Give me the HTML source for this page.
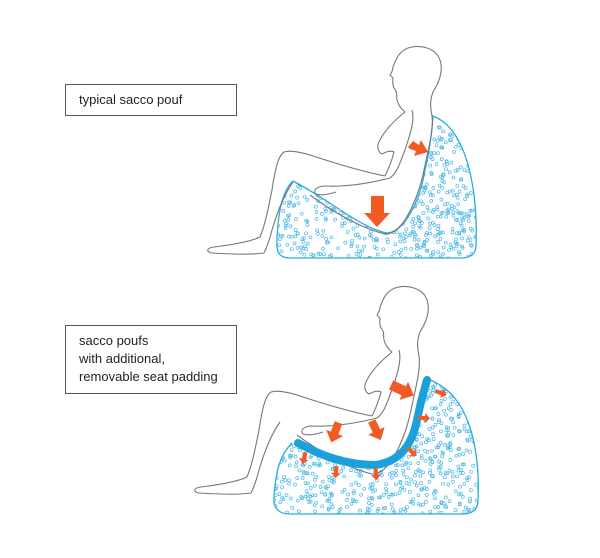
<!DOCTYPE html>
<html><head><meta charset="utf-8">
<style>
html,body{margin:0;padding:0;background:#fff;}
svg{display:block}
text{font-family:"Liberation Sans",sans-serif;font-size:13px;fill:#222}
</style></head>
<body>
<svg id="s" width="600" height="558" viewBox="0 0 600 558" xmlns="http://www.w3.org/2000/svg">
<defs>
<clipPath id="c1"><path d="M293,181 C330,200 360,228 387,233 C405,232 420,200 425,170 C430,150 432,130 433,116 C470,130 478,200 476,245 C476,255 470,258 460,258 L290,258 C279,258 276,252 277,240 C278,210 283,190 293,181 Z"/></clipPath>
<clipPath id="c2"><path d="M292,443 C320,455 350,466 380,466 C410,462 420,420 430,380 C470,395 480,450 478,500 C478,510 472,514 462,514 L290,514 C278,514 273,508 274,496 C276,470 282,452 292,443 Z"/></clipPath>
<g id="person" fill="none" stroke="#777" stroke-width="1.1" stroke-linejoin="round">
<path d="M397,100 C396,96 398,92 394,88 C392,84 393,80 393,78 L390,75 C392,72 393,70 393,67 C396,60 398,52 408,48 C420,44 436,48 440,60 C444,72 438,84 433,92 C430,100 430,106 432,116 C434,130 428,150 424,170 C420,190 414,205 405,220 C398,230 392,234 385,234 C360,228 330,210 310,195"/>
<path d="M397,100 C398,104 400,108 405,112 C395,120 385,130 380,140 C376,146 378,152 382,154 C386,152 390,150 394,152 C392,160 388,170 385,176"/>
<path d="M412,110 C415,120 410,135 405,150 C400,162 398,172 390,178 C370,183 345,187 325,186 C318,186 312,190 316,194 C322,196 330,194 336,192"/>
<path d="M385,176 C365,172 340,165 310,155 C300,152 290,150 284,152 C278,156 275,170 272,190 C268,210 265,225 260,237 C250,242 230,245 214,247 C206,248 206,252 212,253 C230,254 250,255 264,253 C268,245 270,238 272,230 C278,210 284,195 293,182"/>
</g>
</defs>
<rect x="65.5" y="84.5" width="171" height="31" fill="none" stroke="#555" stroke-width="1"/>
<text x="79" y="104">typical sacco pouf</text>
<rect x="65.5" y="325.5" width="171" height="68" fill="none" stroke="#555" stroke-width="1"/>
<text x="79" y="345">sacco poufs</text>
<text x="79" y="363">with additional,</text>
<text x="79" y="381">removable seat padding</text>

<g id="dots1" clip-path="url(#c1)"></g>
<g id="dots2" clip-path="url(#c2)"></g>

<path d="M293,181 C330,200 360,228 387,233 C405,232 420,200 425,170 C430,150 432,130 433,116 C470,130 478,200 476,245 C476,255 470,258 460,258 L290,258 C279,258 276,252 277,240 C278,210 283,190 293,181" fill="none" stroke="#29abe2" stroke-width="1.3"/>
<path d="M292,443 C280,455 276,470 274,496 C273,508 278,514 290,514 L462,514 C472,514 478,510 478,500 C480,450 470,395 430,380" fill="none" stroke="#29abe2" stroke-width="1.3"/>

<use href="#person"/>
<use href="#person" transform="translate(-13,240)"/>

<path d="M298,443 C320,455 345,465 375,465 C400,462 412,445 417,420 C421,400 424,390 427,380" fill="none" stroke="#1ba0dc" stroke-width="8" stroke-linecap="round"/>

<g fill="#f15a22">
<polygon points="408,147 413,141 419,145 421,140 428,152 414,156 416,151 410,149"/>
<polygon points="371,196 384,196 384,213 390,213 377,227 364,213 371,213"/>
<g transform="translate(402,390) rotate(25)"><polygon points="-12,-5 2,-5 2,-10 13,0 2,10 2,5 -12,5"/></g>
<g transform="translate(335,432) rotate(110)"><polygon points="-10,-4 1,-4 1,-9 11,0 1,9 1,4 -10,4"/></g>
<g transform="translate(376,430) rotate(65)"><polygon points="-10,-4 1,-4 1,-9 11,0 1,9 1,4 -10,4"/></g>
<g transform="translate(441,393) rotate(20)"><polygon points="-6,-2 1,-2 1,-5 6,0 1,5 1,2 -6,2"/></g>
<g transform="translate(424,418) rotate(5)"><polygon points="-6,-2 1,-2 1,-5 6,0 1,5 1,2 -6,2"/></g>
<g transform="translate(412,452) rotate(40)"><polygon points="-6,-2 1,-2 1,-5 6,0 1,5 1,2 -6,2"/></g>
<g transform="translate(304,458) rotate(105)"><polygon points="-6,-2 1,-2 1,-5 6,0 1,5 1,2 -6,2"/></g>
<g transform="translate(336,472) rotate(95)"><polygon points="-6,-2 1,-2 1,-5 6,0 1,5 1,2 -6,2"/></g>
<g transform="translate(376,474) rotate(85)"><polygon points="-6,-2 1,-2 1,-5 6,0 1,5 1,2 -6,2"/></g>
</g>
</svg>
<script>
(function(){
var ns="http://www.w3.org/2000/svg";
var seed=7;function r(){seed=(seed*16807)%2147483647;return seed/2147483647;}
function fill(id,x0,y0,x1,y1,n){
var g=document.getElementById(id);
for(var i=0;i<n;i++){
var c=document.createElementNS(ns,"circle");
c.setAttribute("cx",(x0+r()*(x1-x0)).toFixed(1));
c.setAttribute("cy",(y0+r()*(y1-y0)).toFixed(1));
c.setAttribute("r","1.5");
c.setAttribute("fill","none");
c.setAttribute("stroke","#4db8e8");
c.setAttribute("stroke-width","0.7");
g.appendChild(c);}
}
fill("dots1",275,112,480,260,850);
fill("dots2",272,376,482,516,850);
})();
</script>
</body></html>
